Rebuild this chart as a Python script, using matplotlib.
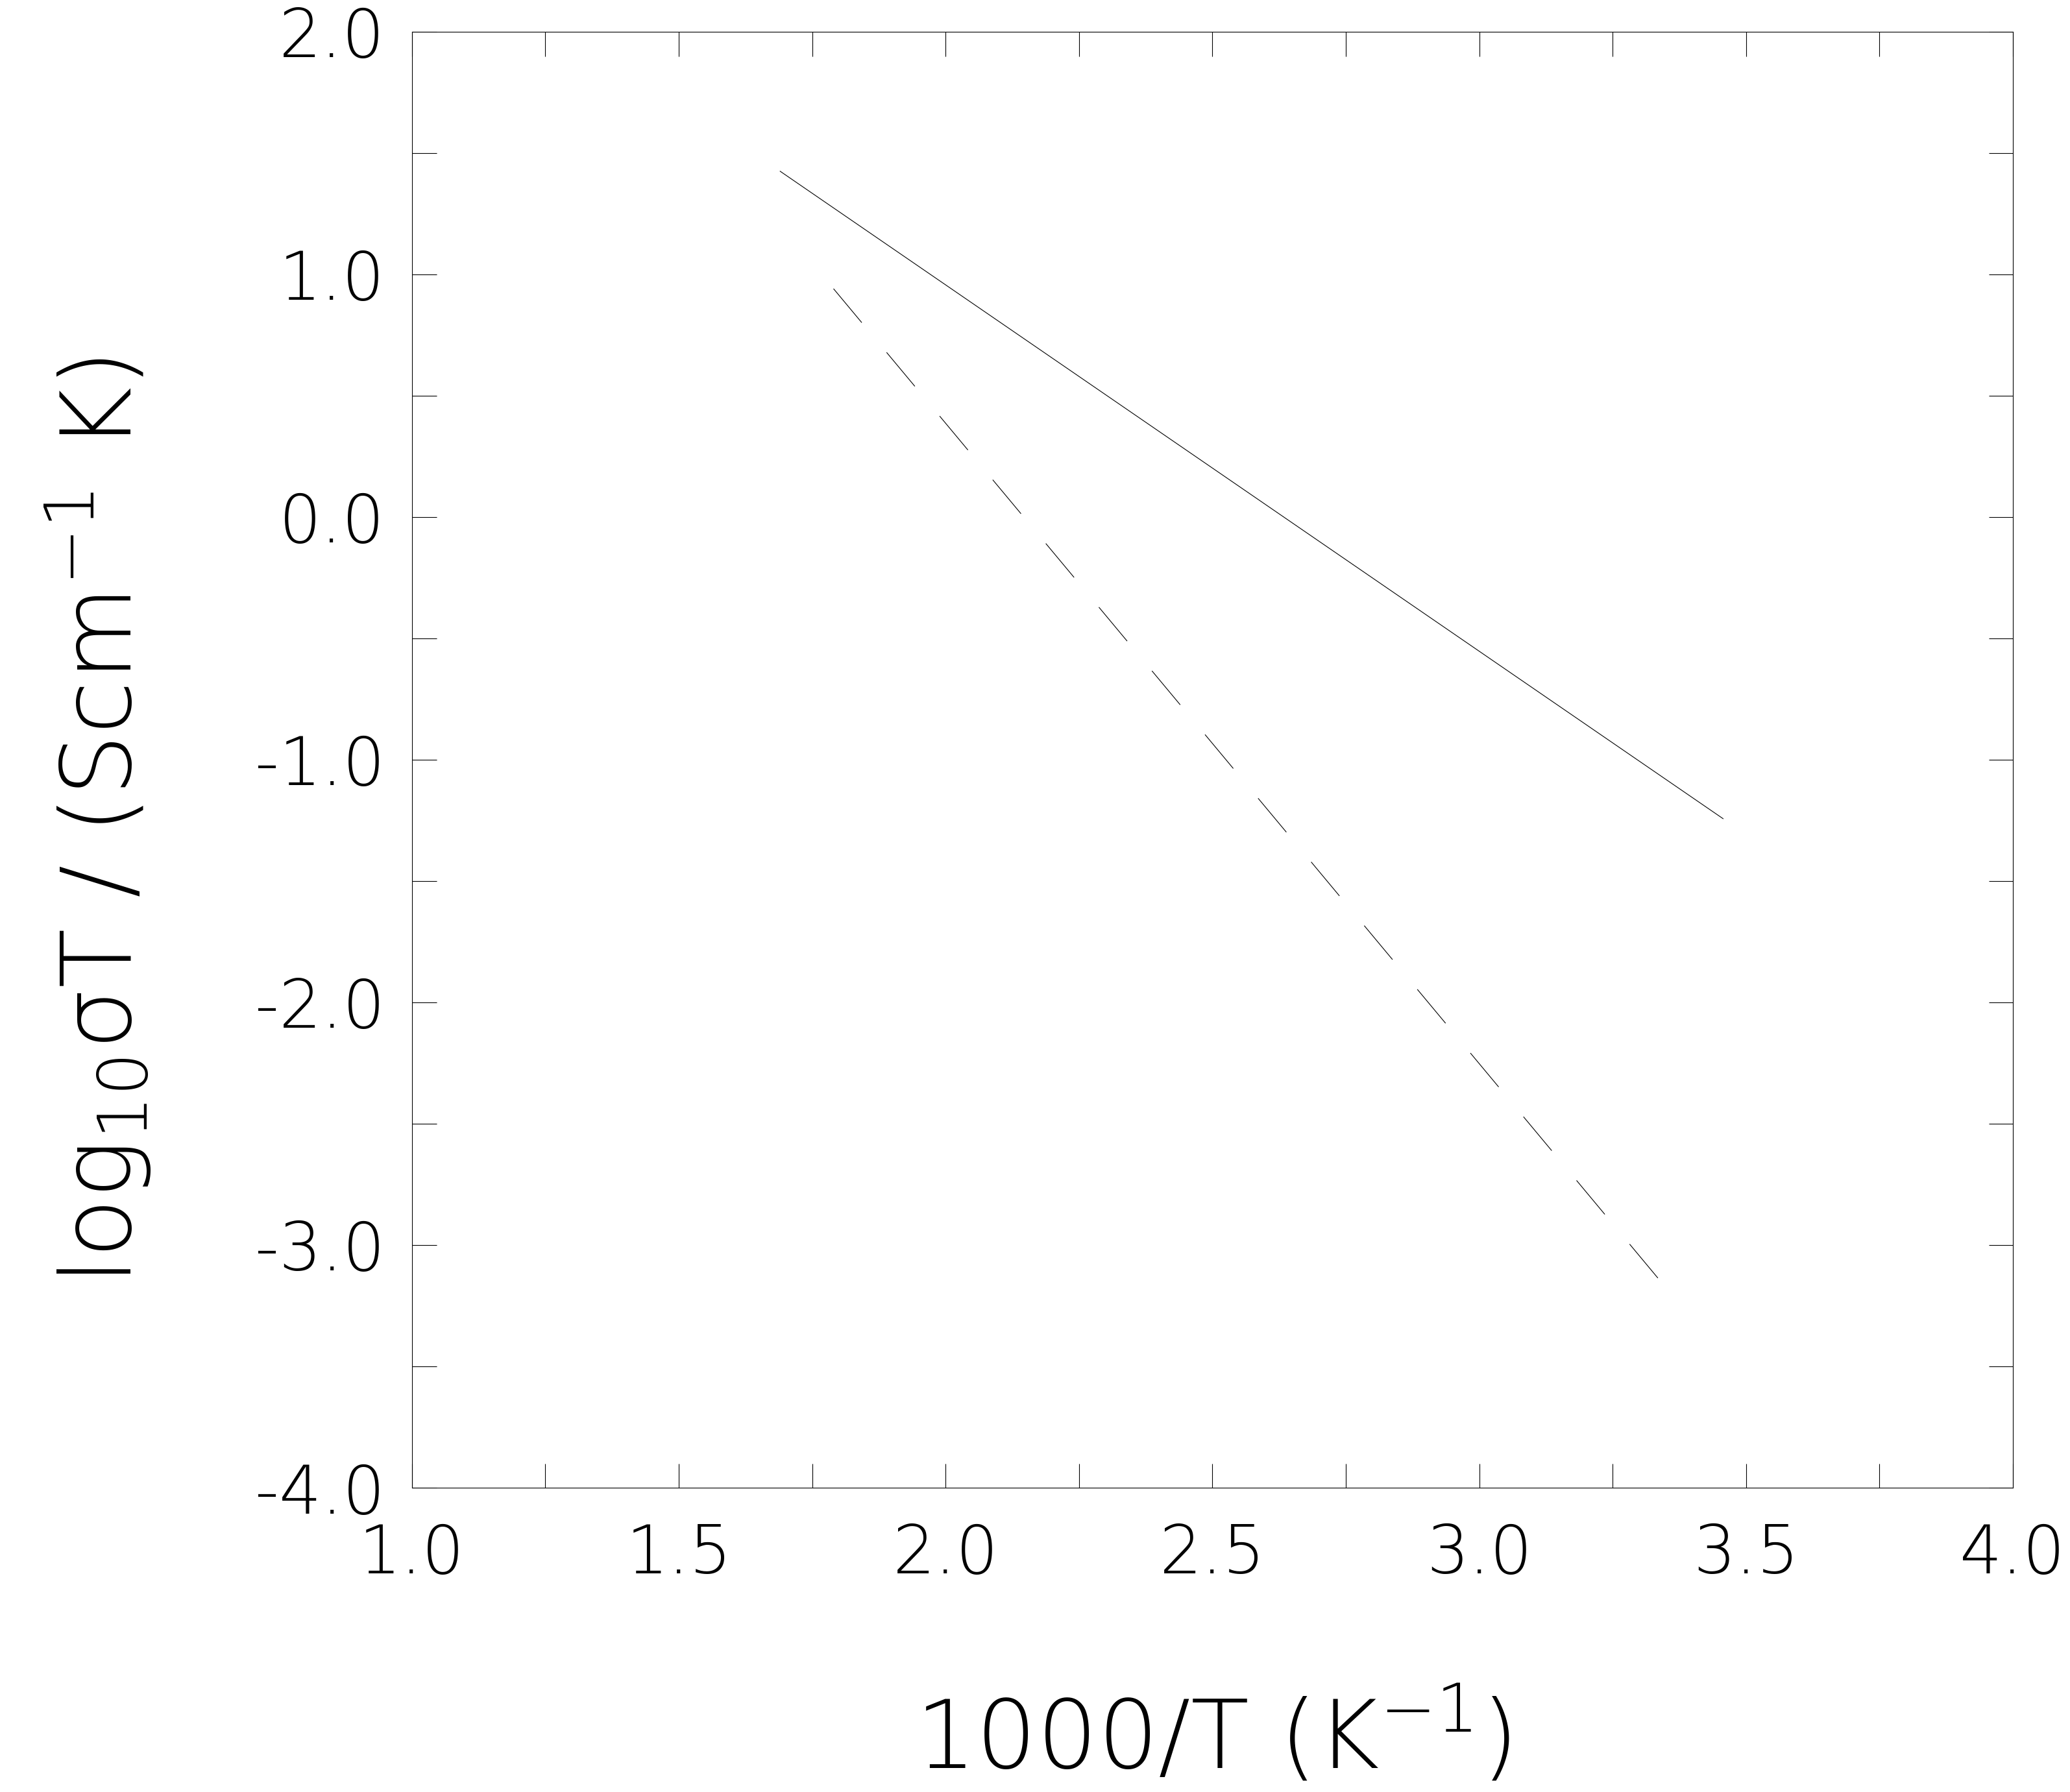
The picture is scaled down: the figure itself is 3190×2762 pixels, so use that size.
import matplotlib
matplotlib.use('Agg')
import matplotlib.pyplot as plt
from matplotlib.ticker import MultipleLocator

# values
solid_x = [1.69, 3.457]
solid_y = [1.425, -1.243]
dash_x = [1.79, 3.342]
dash_y = [0.941, -3.155]

x_ticks = [1.0, 1.5, 2.0, 2.5, 3.0, 3.5, 4.0]
y_ticks = [-4.0, -3.0, -2.0, -1.0, 0.0, 1.0, 2.0]

plt.rcParams['font.family'] = ['DejaVu Sans']
plt.rcParams['font.weight'] = 'ultralight'
plt.rcParams['axes.labelweight'] = 'ultralight'
plt.rcParams['mathtext.fontset'] = 'custom'
plt.rcParams['mathtext.rm'] = 'DejaVu Sans:extralight'
plt.rcParams['mathtext.it'] = 'DejaVu Sans:extralight'
plt.rcParams['mathtext.sf'] = 'DejaVu Sans:extralight'
plt.rcParams['axes.unicode_minus'] = False
plt.rcParams['lines.scale_dashes'] = False

fig = plt.figure(figsize=(31.9, 27.62), dpi=100)
ax = fig.add_axes([0.199, 0.1698, 0.7734, 0.8125])

ax.plot(solid_x, solid_y, color='black', lw=0.8)
ax.plot(dash_x, dash_y, color='black', lw=0.8, dashes=(49, 43))

ax.set_xlim(1, 4)
ax.set_ylim(-4, 2)
ax.set_xticks(x_ticks)
ax.set_yticks(y_ticks)
ax.set_xticklabels(['%.1f' % v for v in x_ticks])
ax.set_yticklabels(['%.1f' % v for v in y_ticks])
ax.xaxis.set_minor_locator(MultipleLocator(0.25))
ax.yaxis.set_minor_locator(MultipleLocator(0.5))

for s in ax.spines.values():
    s.set_linewidth(0.8)

ax.tick_params(which='both', direction='in', top=True, right=True,
               length=27, width=0.8)
ax.tick_params(which='major', labelsize=74)
ax.tick_params(axis='x', which='major', pad=38)
ax.tick_params(axis='y', which='major', pad=30)

ax.set_xlabel(r'1000/T (K$^{-1}$)', fontsize=106)
ax.xaxis.label.set_va('baseline')
ax.xaxis.set_label_coords(0.5, -0.193)

ax.set_ylabel(r'log$_{10}$$\sigma$T / (Scm$^{-1}$ K)', fontsize=108)
ax.yaxis.label.set_va('center')
ax.yaxis.set_label_coords(-0.196, 0.458)

fig.savefig('out.png', dpi=100)
